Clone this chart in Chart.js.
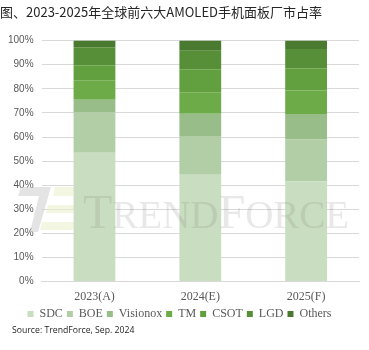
<!DOCTYPE html>
<html>
<head>
<meta charset="utf-8">
<script src="https://cdn.jsdelivr.net/npm/chart.js@4.4.1/dist/chart.umd.min.js"></script>
<style>
html,body{margin:0;padding:0;background:#fff;}
#wrap{width:369px;height:350px;position:relative;}
</style>
</head>
<body>
<div id="wrap"><canvas id="c" width="369" height="350"></canvas></div>
<script>
const categories = ['2023(A)', '2024(E)', '2025(F)'];
const SDC      = [53.5, 44.3, 41.6];
const BOE      = [16.7, 15.8, 17.4];
const Visionox = [5.3, 9.5, 10.5];
const TM       = [8.0, 9.0, 9.8];
const CSOT     = [6.3, 9.5, 9.2];
const LGD      = [7.4, 7.7, 8.0];
const Others   = [2.8, 4.2, 3.5];
const seriesNames = ['SDC', 'BOE', 'Visionox', 'TM', 'CSOT', 'LGD', 'Others'];
const seriesData = [SDC, BOE, Visionox, TM, CSOT, LGD, Others];
const seriesColors = ['#c9dec0', '#b2cea6', '#99bd88', '#6cab47', '#62a03f', '#578f38', '#4a7a30'];
const yTicks = [0, 10, 20, 30, 40, 50, 60, 70, 80, 90, 100];
const sourceText = 'Source: TrendForce, Sep. 2024';

function poly(ctx, pts) {
  ctx.beginPath();
  ctx.moveTo(pts[0][0], pts[0][1]);
  for (let i = 1; i < pts.length; i++) ctx.lineTo(pts[i][0], pts[i][1]);
  ctx.closePath();
  ctx.fill();
}

const decor = {
  id: 'decor',
  beforeDatasetsDraw(chart) {
    const ctx = chart.ctx;
    ctx.save();
    ctx.fillStyle = 'rgba(205,205,205,0.55)';
    poly(ctx, [[21,187],[51,187],[38,232],[30,232],[39,196],[18,196]]);
    ctx.fillStyle = 'rgba(235,240,205,0.6)';
    poly(ctx, [[55,187],[75,187],[73,196],[53,196]]);
    poly(ctx, [[48,205],[75,205],[73,213],[46,213]]);
    poly(ctx, [[42,222],[75,222],[73,230],[40,230]]);
    ctx.restore();
  },
  afterDatasetsDraw(chart) {
    const ctx = chart.ctx;
    ctx.save();
    ctx.fillStyle = 'rgba(120,120,120,0.17)';
    ctx.textBaseline = 'alphabetic';
    const parts = [['T', 48], ['REND', 39], ['F', 48], ['ORCE', 39]];
    let x = 83;
    const y = 228;
    for (const [t, s] of parts) {
      ctx.font = s + 'px "Liberation Serif"';
      ctx.fillText(t, x, y);
      x += ctx.measureText(t).width;
    }
    ctx.restore();
  },
  afterDraw(chart) {
    const ctx = chart.ctx;
    ctx.save();
    ctx.fillStyle = '#262626';
    ctx.font = '8.7px "Open Sans"';
    ctx.textBaseline = 'middle';
    ctx.fillText(sourceText, 12, 331);
    ctx.restore();
  }
};

new Chart(document.getElementById('c'), {
  type: 'bar',
  data: {
    labels: categories,
    datasets: seriesNames.map((n, i) => ({
      label: n,
      data: seriesData[i],
      backgroundColor: seriesColors[i],
      borderWidth: 0,
      categoryPercentage: 1,
      barPercentage: 0.395
    }))
  },
  options: {
    responsive: false,
    animation: false,
    devicePixelRatio: 1,
    layout: { padding: { left: 0, right: 10, top: 0, bottom: 20 } },
    plugins: {
      tooltip: { enabled: false },
      title: {
        display: true,
        text: '图、2023-2025年全球前六大AMOLED手机面板厂市占率',
        align: 'start',
        color: '#262626',
        font: { family: '"Noto Sans CJK SC"', size: 13, weight: 'normal' },
        padding: { top: 4, bottom: 21 }
      },
      legend: {
        position: 'bottom',
        labels: {
          boxWidth: 6, boxHeight: 6, padding: 4,
          color: '#595959',
          font: { family: '"Liberation Serif"', size: 12 }
        }
      }
    },
    scales: {
      x: {
        stacked: true,
        grid: { display: false },
        border: { color: '#d9d9d9' },
        ticks: { color: '#595959', font: { family: '"Liberation Serif"', size: 12 }, padding: 0 }
      },
      y: {
        stacked: true,
        min: 0, max: 100,
        afterBuildTicks(axis) { axis.ticks = yTicks.map(v => ({ value: v })); },
        grid: { color: '#d9d9d9', drawTicks: false },
        border: { display: false },
        ticks: { color: '#595959', padding: 8, font: { family: '"Liberation Sans"', size: 10 }, callback: v => v + '%' }
      }
    }
  },
  plugins: [decor]
});
</script>
</body>
</html>
